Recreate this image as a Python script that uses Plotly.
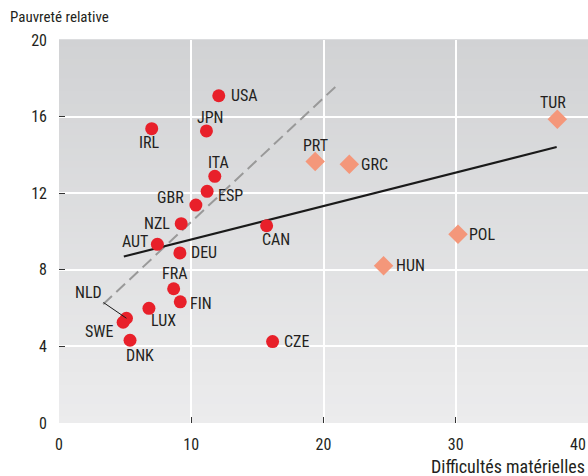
import plotly.graph_objects as go
import numpy as np

# --- data ---
oecd_low = ["USA", "JPN", "IRL", "ITA", "ESP", "GBR", "NZL", "AUT", "DEU", "CAN",
            "FRA", "FIN", "LUX", "NLD", "SWE", "DNK", "CZE"]
low_x = [12.08, 11.15, 7.01, 11.78, 11.2, 10.35, 9.24, 7.44, 9.14, 15.7,
         8.67, 9.17, 6.8, 5.1, 4.85, 5.37, 16.15]
low_y = [17.09, 15.25, 15.37, 12.88, 12.1, 11.38, 10.41, 9.33, 8.88, 10.3,
         7.01, 6.33, 5.99, 5.47, 5.26, 4.32, 4.25]

oecd_high = ["TUR", "PRT", "GRC", "POL", "HUN"]
high_x = [37.68, 19.37, 21.95, 30.17, 24.54]
high_y = [15.86, 13.65, 13.51, 9.85, 8.21]

trend_x = [4.9, 37.63]
trend_y = [8.69, 14.41]
dash_x = [3.34, 20.97]
dash_y = [6.2, 17.6]

x_ticks = [0, 10, 20, 30, 40]
x_tick_labels = ["0", "10", "20", "30", "40"]
y_ticks = [0, 4, 8, 12, 16, 20]

# --- label placement (pixel offsets: xanchor, xshift, yshift) ---
label_pos = {
    "USA": ("left", 10, 0), "JPN": ("center", 4, 13), "IRL": ("center", -3, -14),
    "ITA": ("center", 4, 14), "ESP": ("left", 9, -4), "GBR": ("right", -10, 8),
    "NZL": ("right", -9, 0), "AUT": ("right", -7, 3), "DEU": ("left", 9, 0),
    "CAN": ("center", 9, -14), "FRA": ("center", 1, 15), "FIN": ("left", 8, -2),
    "LUX": ("left", 0, -12), "SWE": ("right", -8, -9), "DNK": ("center", 10, -15),
    "CZE": ("left", 9, 0), "TUR": ("center", -4, 17), "PRT": ("center", 0, 16),
    "GRC": ("left", 10, 0), "POL": ("left", 9, 0), "HUN": ("left", 10, 0),
}

FONT = "Roboto Condensed, Roboto, sans-serif"
FS = 16
TXT = "#231f20"

fig = go.Figure()

fig.add_trace(go.Scatter(x=dash_x, y=dash_y, mode="lines",
                         line=dict(color="#999999", width=2, dash="12px,6px"),
                         hoverinfo="skip"))
fig.add_trace(go.Scatter(x=trend_x, y=trend_y, mode="lines",
                         line=dict(color="#1a1a1a", width=2), hoverinfo="skip"))
fig.add_trace(go.Scatter(x=low_x, y=low_y, mode="markers", text=oecd_low,
                         marker=dict(symbol="circle", size=13, color="#e8202a",
                                     line=dict(width=0))))
fig.add_trace(go.Scatter(x=high_x, y=high_y, mode="markers", text=oecd_high,
                         marker=dict(symbol="diamond", size=15, color="#f4977a",
                                     line=dict(width=0))))

annotations = []
for names, xs, ys in [(oecd_low, low_x, low_y), (oecd_high, high_x, high_y)]:
    for n, x, y in zip(names, xs, ys):
        if n == "NLD":
            continue
        anchor, dx, dy = label_pos[n]
        annotations.append(dict(x=x, y=y, text=n, showarrow=False, xanchor=anchor,
                                yanchor="middle", xshift=dx, yshift=dy,
                                font=dict(family=FONT, size=FS, color=TXT)))

# NLD with leader line
i = oecd_low.index("NLD")
annotations.append(dict(x=low_x[i], y=low_y[i], text="NLD", showarrow=True,
                        arrowhead=0, arrowwidth=1, arrowcolor="#1a1a1a",
                        ax=-38, ay=-26, standoff=0,
                        font=dict(family=FONT, size=FS, color=TXT)))

# last x tick label, kept inside the page edge
annotations.append(dict(x=x_ticks[-1], xref="x", xanchor="right", xshift=0,
                        y=0, yref="paper", yanchor="middle", yshift=-21,
                        text=x_tick_labels[-1], showarrow=False,
                        font=dict(family=FONT, size=FS, color=TXT)))

annotations.append(dict(x=0, xref="paper", xanchor="left", xshift=-51,
                        y=1, yref="paper", yanchor="middle", yshift=23,
                        text="Pauvreté relative", showarrow=False,
                        font=dict(family=FONT, size=15, color=TXT)))
annotations.append(dict(x=1, xref="paper", xanchor="right", xshift=-1,
                        y=0, yref="paper", yanchor="middle", yshift=-43,
                        text="Difficultés matérielles", showarrow=False,
                        font=dict(family=FONT, size=18, color=TXT)))

# vertical gradient background
shapes = []
n_bands = 60
top = np.array([0xd1, 0xd2, 0xd4])
bot = np.array([0xec, 0xec, 0xed])
for k in range(n_bands):
    t = (k + 0.5) / n_bands
    c = bot + (top - bot) * t
    shapes.append(dict(type="rect", xref="paper", yref="paper",
                       x0=0, x1=1, y0=k / n_bands, y1=(k + 1) / n_bands + 0.002,
                       fillcolor="rgb(%d,%d,%d)" % tuple(c.round().astype(int)),
                       line=dict(width=0), layer="below"))

fig.update_layout(
    width=588, height=476,
    margin=dict(l=59, r=0, t=40, b=53, autoexpand=False),
    paper_bgcolor="white", plot_bgcolor="#dedfe0",
    showlegend=False,
    annotations=annotations, shapes=shapes,
    font=dict(family=FONT, size=FS, color=TXT),
)
fig.update_xaxes(range=[0, 40], tickvals=x_ticks,
                 ticktext=x_tick_labels[:-1] + [""],
                 showgrid=True, gridcolor="white",
                 gridwidth=1.5, zeroline=False, ticks="inside", ticklen=6,
                 tickcolor="#333333", tickwidth=1, showline=False, automargin=False,
                 ticklabelstandoff=10,
                 tickfont=dict(family=FONT, size=FS, color=TXT))
fig.update_yaxes(range=[0, 20], tickvals=y_ticks, showgrid=True, gridcolor="white",
                 gridwidth=1.5, zeroline=False, ticks="inside", ticklen=6,
                 tickcolor="#333333", tickwidth=1, showline=False, automargin=False,
                 ticklabelstandoff=11, ticklabeloverflow="allow",
                 tickfont=dict(family=FONT, size=FS, color=TXT))

fig.write_html("out.html", config={"displayModeBar": False},
               post_script="document.body.style.margin='0';"
                           "document.body.style.overflow='hidden';")
